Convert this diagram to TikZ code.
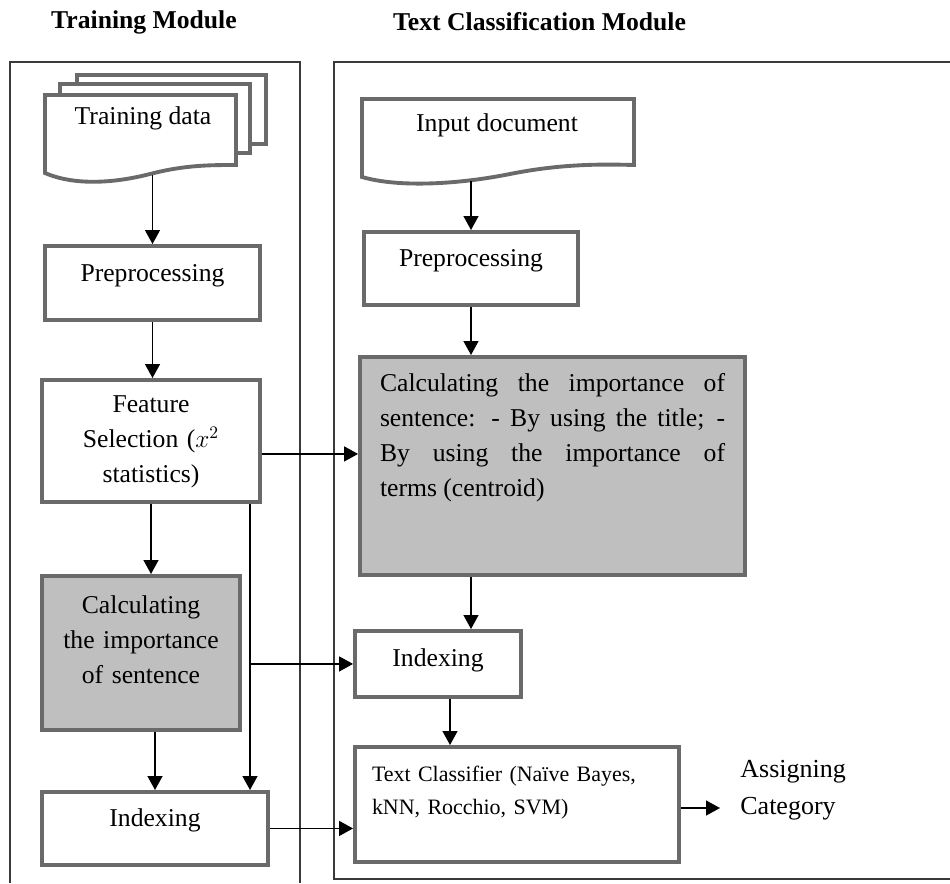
\documentclass[tikz,border=0pt]{standalone}
\usepackage{fontspec}
\setmainfont{Liberation Serif}
\usetikzlibrary{arrows.meta}
\definecolor{boxline}{HTML}{6A6A6A}
\definecolor{frameline}{HTML}{3A3A3A}

\begin{document}
\begin{tikzpicture}[x=0.2mm,y=-0.2mm,font=\fontsize{14.6}{19.9}\selectfont]
\tikzstyle{stepbox}=[draw=boxline,line width=2.2pt,fill=white,anchor=north,inner xsep=2mm,inner ysep=0pt,align=center]
\tikzstyle{shaded}=[stepbox,fill=black!25]
\tikzstyle{docline}=[draw=boxline,line width=2.2pt,fill=white]
\tikzstyle{arr}=[line width=0.8pt,-{Triangle[length=2.8mm,width=3mm]}]
\tikzstyle{frame}=[draw=frameline,line width=0.9pt]
\useasboundingbox (0,0) rectangle (950,883);

% module frames
\draw[frame] (10,883) -- (10,62) -- (300,62) -- (300,883);
\draw[frame] (950,62) -- (334,62) -- (334,879) -- (950,879);

\node[font=\fontsize{14.6}{19.9}\selectfont\bfseries,anchor=base] (ttitle) at (144,28) {Training Module};
\node[font=\fontsize{14.6}{19.9}\selectfont\bfseries,anchor=base west] (ctitle) at (387,30) {Text Classification Module};

% training module
\draw[docline] (77,75) rectangle (266,144);
\draw[docline] (60,84) rectangle (250,153);
\draw[docline] (45,95) -- (236,95) -- (236,165) .. controls (210,165) and (185,165) .. (150,174) .. controls (115,183) and (75,186) .. (45,173) -- cycle;
\node[anchor=north,inner sep=0pt,text height=6.2mm,text depth=10mm] (tdoc) at (143,93) {Training data};

\node[stepbox,text width=39mm,text height=7.2mm,text depth=7.6mm] (tprep) at (152.5,244) {Preprocessing};
\node[stepbox,text width=39.6mm,text height=6.6mm,text depth=17.8mm] (tfeat) at (151,378) {Feature\\Selection ($x^2$\\statistics)};
\node[shaded,text width=35.6mm,text height=7.6mm,text depth=23.2mm] (tcalc) at (141,574) {Calculating\\the importance\\of sentence};
\node[stepbox,text width=41.2mm,text height=7mm,text depth=7.6mm] (tidx) at (155,790) {Indexing};

% classification module
\draw[docline] (362,99) -- (634,99) -- (634,165) .. controls (600,164) and (560,164) .. (510,174) .. controls (460,184) and (400,188) .. (362,177) -- cycle;
\node[anchor=north,inner sep=0pt,text height=6.8mm,text depth=9.8mm] (cdoc) at (497,97) {Input document};

\node[stepbox,text width=38.8mm,text height=7mm,text depth=7.6mm] (cprep) at (471,230) {Preprocessing};
\node[shaded,align=justify,inner xsep=4mm,text width=69mm,text height=7mm,text depth=36.6mm] (cimp) at (552.5,355) {Calculating the importance of\linebreak sentence: - By using the title; -\linebreak By using the importance of\linebreak terms (centroid)};
\node[stepbox,text width=29.2mm,text height=7.2mm,text depth=6mm] (cidx) at (438,629) {Indexing};
\node[stepbox,align=left,inner xsep=3.4mm,text width=58mm,text height=7mm,text depth=16mm,font=\fontsize{12.5}{18.8}\selectfont] (cclass) at (517,745) {Text Classifier (Naïve Bayes,\\kNN, Rocchio, SVM)};
\node[anchor=base west,inner sep=0pt,text width=25mm,align=left,font=\fontsize{14.8}{21.6}\selectfont] (assign) at (740,777) {Assigning\\Category};
\coordinate (out) at (720,808);

% connectors
\draw[arr] (tdoc.south -| tprep.north) -- (tprep.north);
\draw[arr] (tprep.south) -- (tprep.south |- tfeat.north);
\draw[arr] (tfeat.south) -- (tfeat.south |- tcalc.north);
\draw[arr] (tcalc.south -| tidx.north) -- (tidx.north);
\coordinate (split) at ([xshift=19.8mm]tfeat.south);
\draw[arr] (split) -- (split |- tidx.north);
\draw[arr] (split |- cidx.west) -- (cidx.west);
\draw[arr] ([yshift=-2.6mm]tfeat.east) -- ([yshift=-2.6mm]tfeat.east -| cimp.west);
\draw[arr] (tidx.east) -- (tidx.east -| cclass.west);
\draw[arr] (cdoc.south -| cprep.north) -- (cprep.north);
\draw[arr] (cprep.south) -- (cprep.south |- cimp.north);
\draw[arr] (cimp.south -| cprep.south) -- (cprep.south |- cidx.north);
\draw[arr] ([xshift=2.4mm]cidx.south) -- ([xshift=2.4mm]cidx.south |- cclass.north);
\draw[arr] (cclass.east |- out) -- (out);
\end{tikzpicture}
\end{document}
